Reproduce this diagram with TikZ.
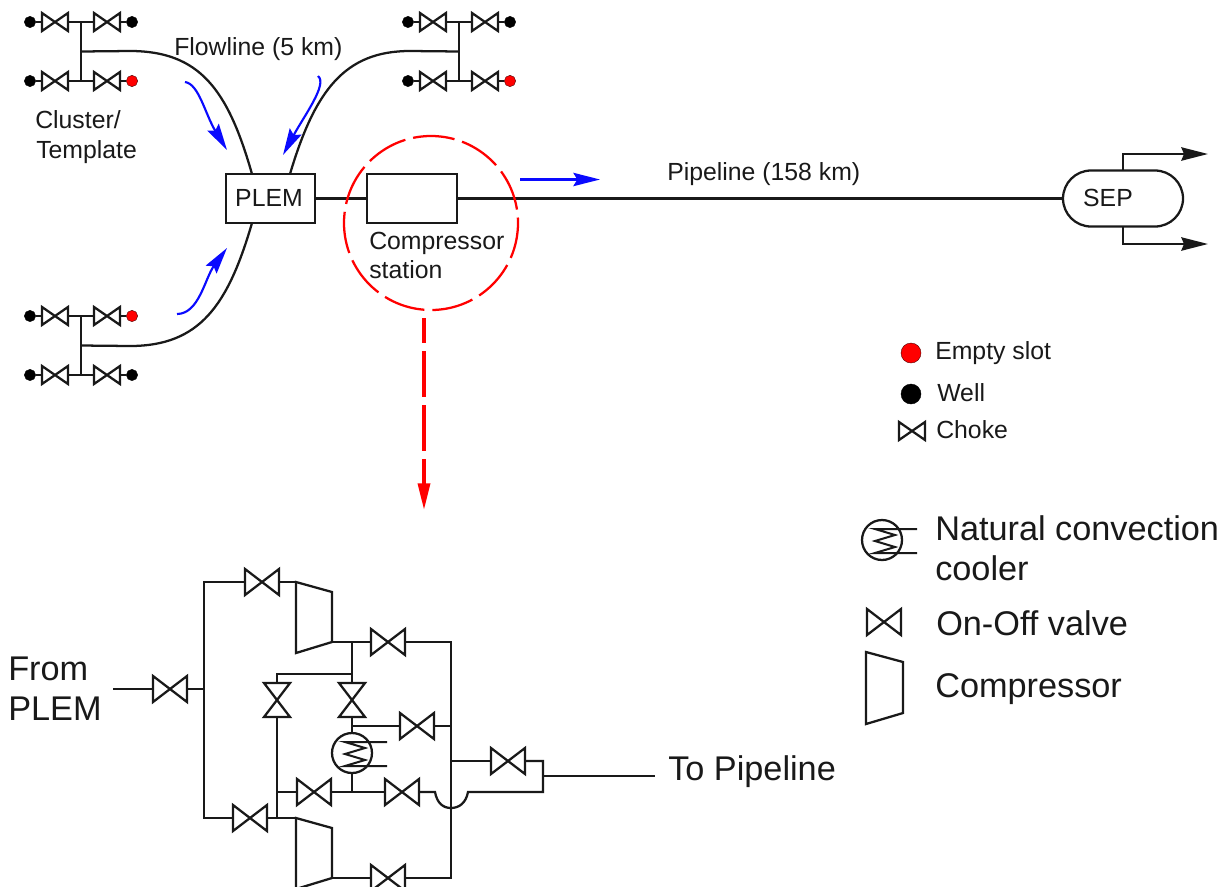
\documentclass[tikz,border=0pt]{standalone}
\usepackage{fontspec}
\setmainfont{Liberation Sans}
\usetikzlibrary{arrows.meta}
\definecolor{flowblue}{RGB}{10,10,255}
\definecolor{redmark}{RGB}{255,0,0}
\tikzset{
  pipe/.style={line width=1.7pt,line join=miter,color=black!90},
  thinpipe/.style={line width=1.5pt,color=black!90},
  equip/.style={draw=black!90,line width=1.7pt,inner sep=0pt,outer sep=0pt},
  vnode/.style={inner sep=0pt,outer sep=0pt},
  lab/.style={font=\fontsize{18.6pt}{20pt}\selectfont,text=black!90,inner sep=0pt,anchor=base west},
  biglab/.style={font=\fontsize{25.7pt}{28pt}\selectfont,text=black!90,inner sep=0pt,anchor=base west},
  flowarrow/.style={draw=flowblue,line width=1.6pt,-{Stealth[length=20pt,width=10pt,inset=3pt,fill=flowblue]}},
  wellmark/.style={circle,fill=black,draw=black,line width=.3pt,minimum size=8.5pt,inner sep=0pt,outer sep=0pt},
  slotmark/.style={circle,fill=redmark,draw=black!70!red,line width=.3pt,minimum size=8.5pt,inner sep=0pt,outer sep=0pt},
  outarrow/.style={pipe,-{Stealth[length=20pt,width=10pt,inset=2pt]}},
}
% horizontal bow-tie: name, x, y, half width, half height (pixels)
\newcommand{\hvalve}[5]{%
  \node[vnode,minimum width=#4*1.5pt,minimum height=#5*1.5pt] (#1) at (#2,#3) {};
  \draw[pipe] (#1.north west) -- (#1.south east) -- (#1.north east) -- (#1.south west) -- cycle;}
% vertical bow-tie
\newcommand{\vvalve}[5]{%
  \node[vnode,minimum width=#4*1.5pt,minimum height=#5*1.5pt] (#1) at (#2,#3) {};
  \draw[pipe] (#1.north west) -- (#1.north east) -- (#1.south west) -- (#1.south east) -- cycle;}
% cluster: prefix, x offset, y row 1, y row 2, colour style of the right end on rows 1 and 2
\newcommand{\wellcluster}[6]{%
  \node[wellmark] (#1a) at (#2+30,#3) {};
  \node[#5] (#1b) at (#2+132,#3) {};
  \node[wellmark] (#1c) at (#2+30,#4) {};
  \node[#6] (#1d) at (#2+132,#4) {};
  \hvalve{#1va}{#2+55}{#3}{13}{9}
  \hvalve{#1vb}{#2+107}{#3}{13}{9}
  \hvalve{#1vc}{#2+55}{#4}{13}{9}
  \hvalve{#1vd}{#2+107}{#4}{13}{9}
  \coordinate (#1t) at (#2+81,#3);
  \coordinate (#1u) at (#2+81,#4);
  \coordinate (#1f) at (#2+81,#3*0.5+#4*0.5);
  \draw[thinpipe] (#1a) -- (#1va.west) (#1va.east) -- (#1vb.west) (#1vb.east) -- (#1b);
  \draw[thinpipe] (#1c) -- (#1vc.west) (#1vc.east) -- (#1vd.west) (#1vd.east) -- (#1d);
  \draw[pipe] (#1t) -- (#1u);}
% compressor: name, x, y of the inlet corner
\newcommand{\compressor}[3]{%
  \coordinate (#1in) at (#2,#3);
  \coordinate (#1out) at (#2+36,#3+60);
  \draw[pipe] (#1in) -- (#2+36,#3+10) -- (#1out) -- (#2,#3+71) -- cycle;}
% cooler: name, x, y
\newcommand{\cooler}[3]{%
  \node[equip,circle,minimum size=30pt] (#1) at (#2,#3) {};
  \draw[thinpipe] (#2+35,#3-11) -- (#2-7,#3-11) -- (#2+13,#3-5) -- (#2-7,#3+1) -- (#2+13,#3+7) -- (#2-7,#3+13) -- (#2+35,#3+13);}
\begin{document}
\begin{tikzpicture}[x=.75pt,y=-.75pt]
\useasboundingbox (0,0) rectangle (1230,886);
\clip (0,0) rectangle (1230,886);

% ---------- upper scheme ----------
\wellcluster{A}{0}{22}{81}{wellmark}{slotmark}
\wellcluster{B}{378}{22}{81}{wellmark}{slotmark}
\wellcluster{C}{0}{316}{375}{slotmark}{wellmark}

\node[equip,minimum width=66.75pt,minimum height=36.75pt] (plem) at (270.5,198.5) {};
\node[lab,anchor=base] (plemt) at (269,206) {PLEM};
\node[equip,minimum width=67.5pt,minimum height=36.75pt] (station) at (412,198.5) {};
\node[equip,rounded corners=21pt,minimum width=90pt,minimum height=42pt] (sep) at (1123,198.5) {};
\node[lab,anchor=base] (sept) at (1108,206) {SEP};

\coordinate (pa) at (252,174);
\coordinate (pb) at (290,174);
\coordinate (pc) at (252,223);
\draw[pipe] (Af) -- (130,51) .. controls (200,51) and (228,90) .. (pa);
\draw[pipe] (Bf) -- (410,51) .. controls (345,51) and (315,90) .. (pb);
\draw[pipe] (Cf) -- (130,346) .. controls (200,346) and (228,305) .. (pc);

\draw[pipe] (plem.east) -- (station.west);
\draw[pipe] (station.east) -- (sep.west);

\coordinate (so1) at (1123,170);
\coordinate (so2) at (1123,226);
\coordinate (sa1) at (1208,154);
\coordinate (sa2) at (1208,244);
\draw[outarrow] (so1) |- (sa1);
\draw[outarrow] (so2) |- (sa2);

% flow arrows
\coordinate (f1a) at (185,82);
\coordinate (f1b) at (227,150);
\coordinate (f2a) at (318,76);
\coordinate (f2b) at (283,155);
\coordinate (f3a) at (177,314);
\coordinate (f3b) at (227,248);
\coordinate (f4a) at (520,179.5);
\coordinate (f4b) at (600,179.5);
\draw[flowarrow] (f1a) .. controls (199,84) and (205,114) .. (f1b);
\draw[flowarrow] (f2a) .. controls (328,84) and (304,116) .. (f2b);
\draw[flowarrow] (f3a) .. controls (199,314) and (205,278) .. (f3b);
\draw[flowarrow] (f4a) -- (f4b);

% red detail marker
\node[circle,draw=redmark,line width=1.7pt,minimum size=130.5pt,inner sep=0pt,outer sep=0pt,dash pattern=on 31.3pt off 6pt,dash phase=27.2pt] (circ) at (431,223) {};
\coordinate (r1) at (424,318);
\coordinate (r2) at (424,510);
\draw[draw=redmark,line width=2.6pt,dash pattern=on 34.5pt off 6pt,dash phase=15.75pt,-{Stealth[length=20pt,width=9pt,inset=0pt,fill=redmark]}] (r1) -- (r2);

% upper labels
\node[lab] (t1) at (174,55) {Flowline (5 km)};
\node[lab] (t2) at (35,128) {Cluster/};
\node[lab] (t3) at (36,158) {Template};
\node[lab] (t4) at (667,180) {Pipeline (158 km)};
\node[lab] (t5) at (369,249) {Compressor};
\node[lab] (t6) at (369,278) {station};

% upper legend
\node[slotmark,minimum size=15pt] (m1) at (911,353) {};
\node[wellmark,minimum size=15pt] (m2) at (911,394) {};
\hvalve{m3}{912}{431}{13}{9}
\node[lab] (t7) at (935,359) {Empty slot};
\node[lab] (t8) at (937,401) {Well};
\node[lab] (t9) at (936,438) {Choke};

% ---------- compressor station ----------
\coordinate (in) at (113,689);
\coordinate (b1) at (204,582);
\coordinate (b2) at (204,689);
\coordinate (b3) at (204,818);
\hvalve{vIn}{170}{689}{17}{13}
\hvalve{vT}{262}{582}{17}{13}
\hvalve{vB}{250}{818}{17}{13}
\compressor{ct}{296}{582}
\compressor{cb}{296}{818}
\hvalve{vOa}{388}{642}{17}{13}
\hvalve{vOb}{388}{878}{17}{13}
\vvalve{vVa}{277}{700}{13}{17}
\vvalve{vVb}{352}{700}{13}{17}
\hvalve{vC}{417}{726}{17}{13}
\hvalve{vL}{314}{792}{17}{13}
\hvalve{vR}{402}{792}{17}{13}
\hvalve{vE}{508}{761}{17}{13}
\cooler{cool}{352}{753}

\coordinate (J1) at (352,642);
\coordinate (J2) at (352,674);
\coordinate (J3) at (277,674);
\coordinate (J4) at (352,726);
\coordinate (J5) at (352,792);
\coordinate (J6) at (277,792);
\coordinate (J7) at (277,818);
\coordinate (R1) at (451,642);
\coordinate (R2) at (451,726);
\coordinate (R3) at (451,761);
\coordinate (R4) at (451,878);
\coordinate (H1) at (435,792);
\coordinate (H2) at (468,792);
\coordinate (H3) at (451,808);
\coordinate (E1) at (543,792);
\coordinate (E2) at (543,776);
\coordinate (E3) at (543,761);
\coordinate (out) at (655,776);

\draw[pipe] (in) -- (vIn.west);
\draw[pipe] (vIn.east) -- (b2);
\draw[pipe] (vT.west) -| (b1) -- (b3) -- (vB.west);
\draw[pipe] (vT.east) -- (ctin);
\draw[pipe] (vB.east) -- (cbin);
\draw[pipe] (ctout) -- (vOa.west);
\draw[pipe] (cbout) -- (vOb.west);
\draw[pipe] (vOa.east) -- (R1) -- (R4) -- (vOb.east);
\draw[pipe] (J1) -- (J2) -- (vVb.north);
\draw[pipe] (J2) -- (J3) -- (vVa.north);
\draw[pipe] (vVb.south) -- (cool.north);
\draw[pipe] (J4) -- (vC.west);
\draw[pipe] (vC.east) -- (R2);
\draw[pipe] (vVa.south) -- (J6) -- (J7);
\draw[pipe] (J6) -- (vL.west);
\draw[pipe] (vL.east) -- (J5) -- (vR.west);
\draw[pipe] (cool.south) -- (J5);
\draw[pipe] (vR.east) -- (H1) .. controls (437,803) and (443,808) .. (H3) .. controls (459,808) and (466,803) .. (H2) -- (E1) -- (E3) -- (vE.east);
\draw[pipe] (vE.west) -- (R3);
\draw[pipe] (E2) -- (out);

\node[biglab] (t10) at (8,680) {From};
\node[biglab] (t11) at (8,720) {PLEM};
\node[biglab] (t12) at (668,780) {To Pipeline};

% lower legend
\cooler{lc}{882}{540}
\hvalve{lv}{884}{622}{17}{13}
\draw[pipe] (866,652) -- (903,662) -- (903,713) -- (866,724) -- cycle;
\node[biglab] (t13) at (935,540) {Natural convection};
\node[biglab] (t14) at (935,580) {cooler};
\node[biglab] (t15) at (936,635) {On-Off valve};
\node[biglab] (t16) at (935,697) {Compressor};
\end{tikzpicture}
\end{document}
